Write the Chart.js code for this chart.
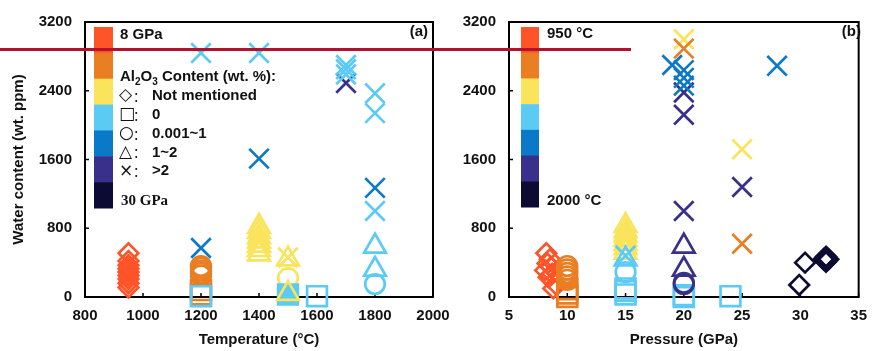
<!DOCTYPE html>
<html>
<head>
<title>Water content vs temperature and pressure</title>
<script src="https://cdn.jsdelivr.net/npm/chart.js"></script>
<style>
  body { margin: 0; background: #fff; }
  #wrap { position: relative; width: 877px; height: 351px; overflow: hidden; }
  #chartA { position: absolute; left: 0; top: 0; }
  #chartB { position: absolute; left: 440px; top: 0; }
  #redLine { position: absolute; left: 0; top: 48px; width: 631px; height: 3px; background: #b3112e; }
</style>
</head>
<body>
<div id="wrap">
  <canvas id="chartA" width="460" height="351"></canvas>
  <canvas id="chartB" width="437" height="351"></canvas>
  <div id="redLine"></div>
</div>

<script>
// colour bins: 0 = 8 GPa / 950 °C ... 6 = 30 GPa / 2000 °C
const palette = ['#ff5328', '#e97e22', '#f9e45c', '#5bcbf6', '#0a79c7', '#38308a', '#0c0b33'];
// Al2O3 class: d = not mentioned, s = 0, S = stacked squares, o = 0.001~1, t = 1~2, x = >2
const legendRows = [['◇', 'Not mentioned'], ['□', '0'], ['○', '0.001~1'], ['△', '1~2'], ['×', '>2']];

// (a) temperature (°C) vs water content (wt. ppm), coloured by pressure
const tempA = [
  950, 950, 950, 950, 950, 950, 950, 950, 950,
  1200, 1200, 1200, 1200, 1200, 1200, 1200, 1200, 1200, 1200,
  1400, 1400, 1400, 1400, 1400, 1400, 1400, 1400, 1400,
  1500, 1500, 1500, 1500, 1500,
  1600,
  1700, 1700, 1700, 1700,
  1800, 1800, 1800, 1800, 1800, 1800, 1800
];
const waterA = [
  110, 160, 210, 250, 290, 330, 370, 420, 510,
  30, 80, 250, 280, 310, 340, 360, 10, 570, 2840,
  500, 550, 600, 650, 700, 760, 820, 1610, 2840,
  220, 30, 40, 440, 460,
  10,
  2490, 2590, 2650, 2700,
  150, 320, 590, 1000, 1270, 2140, 2370
];
const colorA = [
  0, 0, 0, 0, 0, 0, 0, 0, 0,
  1, 1, 1, 1, 1, 1, 1, 3, 4, 3,
  2, 2, 2, 2, 2, 2, 2, 4, 3,
  2, 3, 2, 2, 2,
  3,
  5, 3, 3, 3,
  3, 3, 3, 3, 4, 3, 3
];
const shapeA = [
  'd', 'd', 'd', 'd', 'd', 'd', 'd', 'd', 'd',
  's', 's', 'o', 'o', 'o', 'o', 'o', 's', 'x', 'x',
  't', 't', 't', 't', 't', 't', 't', 'x', 'x',
  'o', 'S', 't', 't', 'x',
  's',
  'x', 'x', 'x', 'x',
  'o', 't', 't', 'x', 'x', 'x', 'x'
];

// (b) pressure (GPa) vs water content (wt. ppm), coloured by temperature
const presB = [
  8.2, 8.5, 8.3, 8.6, 8.1, 8.7, 8.4, 9.0, 8.8,
  10, 10, 10, 10, 10, 10, 10, 10,
  15, 15, 15, 15, 15, 15, 15, 15, 15, 15, 15, 15, 15,
  20, 20, 20, 20, 20, 20, 20, 20, 20, 19, 20, 20, 20, 20, 20,
  24, 25, 25, 25, 28,
  29.9, 30.4, 32.0, 32.4, 32.2, 32.2, 32.2
];
const waterB = [
  510, 440, 390, 350, 310, 270, 230, 150, 100,
  0, 40, 90, 200, 240, 280, 320, 360,
  520, 570, 620, 670, 720, 770, 830, 30, 70, 100, 290, 440, 480,
  0, 20, 150, 165, 320, 590, 1000, 2120, 2380, 2700, 2640, 2550, 2460, 3000, 2890,
  10, 620, 1280, 1720, 2690,
  140, 400, 440, 440, 410, 470, 440
];
const colorB = [
  0, 0, 0, 0, 0, 0, 0, 0, 0,
  1, 1, 1, 1, 1, 1, 1, 1,
  2, 2, 2, 2, 2, 2, 2, 3, 3, 3, 3, 3, 3,
  3, 3, 5, 5, 5, 5, 5, 5, 5, 4, 4, 4, 4, 2, 1,
  3, 1, 5, 2, 4,
  6, 6, 6, 6, 6, 6, 6
];
const shapeB = [
  'd', 'd', 'd', 'd', 'd', 'd', 'd', 'd', 'd',
  's', 's', 's', 'o', 'o', 'o', 'o', 'o',
  't', 't', 't', 't', 't', 't', 't', 's', 's', 's', 'o', 't', 'x',
  's', 's', 'o', 'o', 't', 't', 'x', 'x', 'x', 'x', 'x', 'x', 'x', 'x', 'x',
  's', 'x', 'x', 'x', 'x',
  'd', 'd', 'd', 'd', 'd', 'd', 'd'
];

const tempTicks = [800, 2000, 200];
const presTicks = [5, 35, 5];
const waterTicks = [0, 3200, 800];

const sans = "'Liberation Sans', Arial, sans-serif";
const serif = "'Liberation Serif', 'Times New Roman', serif";
const bold15 = 'bold 15px ' + sans;
const ink = '#111';

const styleOf = { d: 'rectRot', s: 'rect', S: 'rect', o: 'circle', t: 'triangle', x: 'crossRot' };
const radiusOf = { d: 9.8, s: 14, S: 14, o: 9.8, t: 12.5, x: 13.8 };

function frame(chart) {
  const { ctx, chartArea: a, scales: { x, y } } = chart;
  ctx.save();
  ctx.strokeStyle = '#000';
  ctx.lineWidth = 2;
  ctx.strokeRect(a.left, a.top, a.right - a.left, a.bottom - a.top);
  ctx.lineWidth = 1.5;
  ctx.beginPath();
  x.ticks.forEach(t => {
    const px = x.getPixelForValue(t.value);
    ctx.moveTo(px, a.bottom); ctx.lineTo(px, a.bottom - 4);
  });
  y.ticks.forEach(t => {
    const py = y.getPixelForValue(t.value);
    ctx.moveTo(a.left, py); ctx.lineTo(a.left + 4, py);
  });
  ctx.stroke();
  ctx.restore();
}

function colourBar(ctx, x, y, w, h) {
  const step = h / palette.length;
  palette.forEach((c, i) => {
    ctx.fillStyle = c;
    ctx.fillRect(x, y + i * step, w, step + 0.5);
  });
}

function legendA(chart) {
  const ctx = chart.ctx;
  ctx.save();
  colourBar(ctx, 94, 27, 19, 181);
  ctx.fillStyle = ink;
  ctx.textBaseline = 'middle';
  ctx.font = bold15;
  ctx.fillText('8 GPa', 120, 35);

  // Al2O3 Content (wt. %):
  let x = 120;
  const parts = [['Al', 0], ['2', 1], ['O', 0], ['3', 1], [' Content (wt. %):', 0]];
  parts.forEach(([txt, sub]) => {
    ctx.font = sub ? 'bold 10px ' + sans : bold15;
    ctx.fillText(txt, x, sub ? 82 : 77);
    x += ctx.measureText(txt).width;
  });

  legendRows.forEach(([sym, label], i) => {
    const y = 96 + i * 18.8;
    ctx.font = "17px 'DejaVu Sans'";
    ctx.fillText(sym, 119, y);
    ctx.font = "13px 'Noto Sans CJK SC'";
    ctx.fillText('：', 133, y);
    ctx.font = bold15;
    ctx.fillText(label, 152, y);
  });

  ctx.font = 'bold 15px ' + serif;
  ctx.fillText('30 GPa', 121, 201);

  ctx.textAlign = 'right';
  ctx.font = bold15;
  ctx.fillText('(a)', 428, 32);
  ctx.restore();
}

function legendB(chart) {
  const ctx = chart.ctx;
  ctx.save();
  colourBar(ctx, 81, 27, 18, 180);
  ctx.fillStyle = ink;
  ctx.textBaseline = 'middle';
  ctx.font = bold15;
  ctx.fillText('950 °C', 107, 34);
  ctx.fillText('2000 °C', 107, 201);
  ctx.textAlign = 'right';
  ctx.fillText('(b)', 421, 32);
  ctx.restore();
}

function makeChart(id, xs, ys, colors, shapes, xt, opt) {
  const points = xs.map((v, i) => ({ x: v, y: ys[i] }));
  const tickFont = { size: 15, weight: 'bold', family: sans };
  return new Chart(document.getElementById(id), {
    type: 'scatter',
    data: {
      datasets: [{
        data: points,
        pointStyle: shapes.map(s => styleOf[s]),
        pointRadius: shapes.map(s => radiusOf[s]),
        pointHoverRadius: shapes.map(s => radiusOf[s]),
        pointBorderColor: colors.map(c => palette[c]),
        pointBackgroundColor: shapes.map((s, i) => s === 'S' ? palette[colors[i]] : 'rgba(0,0,0,0)'),
        pointBorderWidth: 2.7,
        clip: false
      }]
    },
    options: {
      responsive: false,
      animation: false,
      events: [],
      layout: { padding: { left: 0, right: opt.padRight, top: 17, bottom: 0 } },
      plugins: { legend: { display: false }, tooltip: { enabled: false } },
      scales: {
        x: {
          type: 'linear',
          min: xt[0], max: xt[1],
          ticks: { stepSize: xt[2], font: tickFont, color: ink, padding: 10, maxRotation: 0, callback: v => String(v) },
          grid: { display: false, drawTicks: false },
          border: { display: false },
          title: { display: true, text: opt.xTitle, color: ink, font: tickFont, padding: { top: 0, bottom: 2 } },
          afterFit: s => { s.height = 54; }
        },
        y: {
          min: waterTicks[0], max: waterTicks[1],
          ticks: { stepSize: waterTicks[2], font: tickFont, color: ink, padding: 13, callback: v => String(v) },
          grid: { display: false, drawTicks: false },
          border: { display: false },
          title: { display: !!opt.yTitle, text: opt.yTitle || '', color: ink, font: tickFont, padding: { top: 10, bottom: 0 } },
          afterFit: s => { s.width = opt.yWidth; }
        }
      }
    },
    plugins: [{
      id: 'frameAndLegend',
      beforeDatasetsDraw: frame,
      afterDraw: opt.legend
    }]
  });
}

makeChart('chartA', tempA, waterA, colorA, shapeA, tempTicks,
  { padRight: 27, yWidth: 85, xTitle: 'Temperature (°C)', yTitle: 'Water content (wt. ppm)', legend: legendA });
makeChart('chartB', presB, waterB, colorB, shapeB, presTicks,
  { padRight: 9, yWidth: 69, xTitle: 'Pressure (GPa)', legend: legendB });
</script>
</body>
</html>
